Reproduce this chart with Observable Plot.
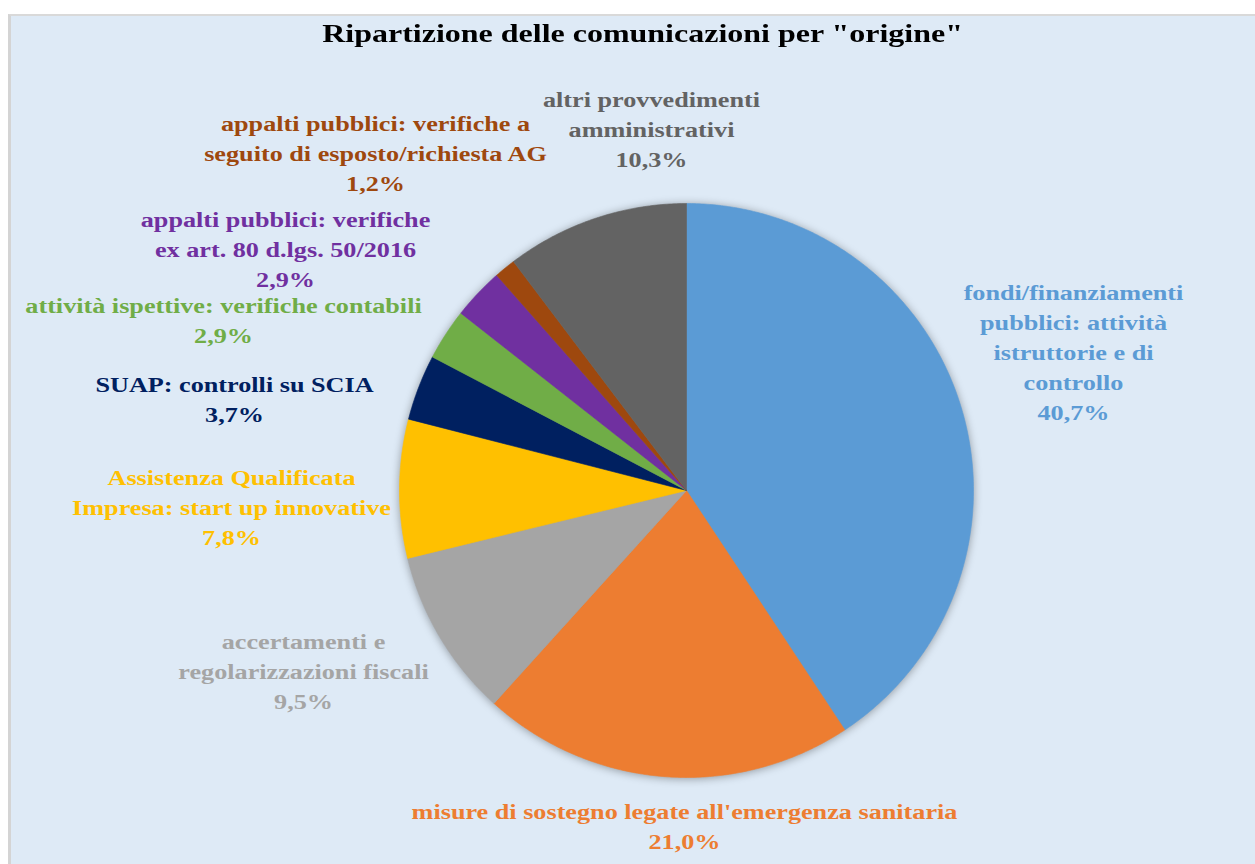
<!DOCTYPE html>
<html>
<head>
<meta charset="utf-8">
<script src="https://cdn.jsdelivr.net/npm/d3@7"></script>
<script src="https://cdn.jsdelivr.net/npm/@observablehq/plot@0.6"></script>
<style>
  html, body { margin: 0; padding: 0; background: #ffffff; width: 1255px; height: 864px; overflow: hidden; }
  #frame { position: absolute; left: 8px; top: 14px; width: 1247px; height: 850px;
           background: #DEEAF6; border-left: 3px solid #d4d4d4; border-top: 2px solid #d9d9d9; box-sizing: border-box; }
  #title { position: absolute; left: 0; top: 19px; width: 1285px; text-align: center;
           font-family: "Liberation Serif", serif; font-weight: bold; font-size: 26px; color: #000;
           transform: scaleX(1.23); transform-origin: 642px 0; }
  #chart { position: absolute; left: 0; top: 0; }
  #chart svg { background: transparent !important; }
</style>
</head>
<body>
<div id="frame"></div>
<div id="title">Ripartizione delle comunicazioni per "origine"</div>
<div id="chart"></div>
<script>
// ---- data ----
const categories = [
  "fondi/finanziamenti pubblici: attività istruttorie e di controllo",
  "misure di sostegno legate all'emergenza sanitaria",
  "accertamenti e regolarizzazioni fiscali",
  "Assistenza Qualificata Impresa: start up innovative",
  "SUAP: controlli su SCIA",
  "attività ispettive: verifiche contabili",
  "appalti pubblici: verifiche ex art. 80 d.lgs. 50/2016",
  "appalti pubblici: verifiche a seguito di esposto/richiesta AG",
  "altri provvedimenti amministrativi"
];
const values = [40.7, 21.0, 9.5, 7.8, 3.7, 2.9, 2.9, 1.2, 10.3];
const colors = ["#5B9BD5", "#ED7D31", "#A5A5A5", "#FFC000", "#002060", "#70AD47", "#7030A0", "#9E480E", "#636363"];
const labelLines = [
  ["fondi/finanziamenti", "pubblici: attività", "istruttorie e di", "controllo"],
  ["misure di sostegno legate all'emergenza sanitaria"],
  ["accertamenti e", "regolarizzazioni fiscali"],
  ["Assistenza Qualificata", "Impresa: start up innovative"],
  ["SUAP: controlli su SCIA"],
  ["attività ispettive: verifiche contabili"],
  ["appalti pubblici: verifiche", "ex art. 80 d.lgs. 50/2016"],
  ["appalti pubblici: verifiche a", "seguito di esposto/richiesta AG"],
  ["altri provvedimenti", "amministrativi"]
];

// ---- layout (pixel offsets from pie centre, y down) ----
const W = 1255, H = 864;
const cx = 686, cy = 490, R = 287;
const labelOffsets = [
  [387, -140], [-2, 334], [-383, 179], [-455, 15], [-452, -93],
  [-463, -172], [-401, -243], [-311, -339], [-35, -363]
];
const textStretch = 1.31;

// ---- build slice polygons ----
const pie = d3.pie().sort(null).value(d => d.value).startAngle(0).endAngle(2 * Math.PI);
const rows = categories.map((c, i) => ({category: c, value: values[i]}));
const arcs = pie(rows);
const polys = [];
arcs.forEach(a => {
  const c = a.data.category;
  polys.push({category: c, x: 0, y: 0});
  const n = Math.max(2, Math.ceil((a.endAngle - a.startAngle) / (Math.PI / 360)));
  for (let k = 0; k <= n; k++) {
    const t = a.startAngle + (a.endAngle - a.startAngle) * k / n;
    polys.push({category: c, x: R * Math.sin(t), y: -R * Math.cos(t)});
  }
  polys.push({category: c, x: 0, y: 0});
});

const fmt = v => v.toFixed(1).replace(".", ",") + "%";
const labels = categories.map((c, i) => ({
  category: c,
  x: labelOffsets[i][0],
  y: labelOffsets[i][1],
  text: [...labelLines[i], fmt(values[i])].join("\n")
}));

const chart = Plot.plot({
  width: W,
  height: H,
  margin: 0,
  style: {background: "transparent", overflow: "visible"},
  x: {domain: [-cx, W - cx], range: [0, W], axis: null},
  y: {domain: [-cy, H - cy], range: [0, H], axis: null},
  color: {domain: categories, range: colors},
  marks: [
    Plot.line(polys, {x: "x", y: "y", z: "category", fill: "category", stroke: "category", strokeWidth: 0.6, curve: "linear"}),
    Plot.text(labels, {
      x: "x", y: "y", text: "text", fill: "category",
      fontFamily: "Liberation Serif, serif", fontWeight: 600, fontSize: 20,
      lineHeight: 1.5, lineAnchor: "middle", textAnchor: "middle"
    })
  ]
});
const lineG = chart.querySelector('g[aria-label="line"]');
if (lineG) lineG.style.filter = "drop-shadow(0px 1px 4px rgba(0,0,0,0.35))";
// widen the glyphs (the reference face is a wide Garamond)
chart.querySelectorAll('g[aria-label="text"] text').forEach(t => {
  const tr = t.getAttribute("transform");
  if (tr) {
    t.setAttribute("transform", tr + ` scale(${textStretch},1)`);
  } else {
    const x = +t.getAttribute("x") || 0, y = +t.getAttribute("y") || 0;
    t.setAttribute("transform", `translate(${x},${y}) scale(${textStretch},1) translate(${-x},${-y})`);
  }
});
document.getElementById("chart").appendChild(chart);
</script>
</body>
</html>
